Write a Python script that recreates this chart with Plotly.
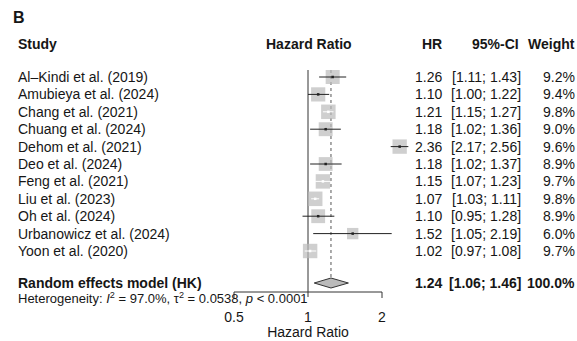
import numpy as np
import plotly.graph_objects as go

# ---------------- data ----------------
studies = ["Al–Kindi et al. (2019)", "Amubieya et al. (2024)", "Chang et al. (2021)",
           "Chuang et al. (2024)", "Dehom et al. (2021)", "Deo et al. (2024)",
           "Feng et al. (2021)", "Liu et al. (2023)", "Oh et al. (2024)",
           "Urbanowicz et al. (2024)", "Yoon et al. (2020)"]
hr = [1.26, 1.10, 1.21, 1.18, 2.36, 1.18, 1.15, 1.07, 1.10, 1.52, 1.02]
lower = [1.11, 1.00, 1.15, 1.02, 2.17, 1.02, 1.07, 1.03, 0.95, 1.05, 0.97]
upper = [1.43, 1.22, 1.27, 1.36, 2.56, 1.37, 1.23, 1.11, 1.28, 2.19, 1.08]
weights = [9.2, 9.4, 9.8, 9.0, 9.6, 8.9, 9.7, 9.8, 8.9, 6.0, 9.7]
pooled_label = "Random effects model (HK)"
pooled_hr = 1.24
pooled_lower = 1.06
pooled_upper = 1.46
pooled_weight = 100.0
het_text = "Heterogeneity: <i>I</i><sup>2</sup> = 97.0%, τ<sup>2</sup> = 0.0538, <i>p</i> &lt; 0.0001"
axis_ticks = [0.5, 1, 2]
axis_title = "Hazard Ratio"
headers = ["Study", "Hazard Ratio", "HR", "95%-CI", "Weight"]
panel_label = "B"

# ---------------- layout constants ----------------
W, H = 577, 341
FONT = "Liberation Sans, Arial, Helvetica, sans-serif"
TXT = "#161616"
PX_PER_DOUBLING = 74.0
PX_NULL = 308.0
x_lo = (0 - PX_NULL) * np.log10(2) / PX_PER_DOUBLING
x_hi = (W - PX_NULL) * np.log10(2) / PX_PER_DOUBLING
ROW0, ROWH = 77.0, 17.4
y_top = -ROW0 / ROWH
y_bot = (H - ROW0) / ROWH


def r(py):
    return (py - ROW0) / ROWH


def px(p):
    return p / W


rows = list(range(len(studies)))

fig = go.Figure()

# reference lines
fig.add_trace(go.Scatter(x=[1, 1], y=[r(70), r(297)], mode="lines",
                         line=dict(color="#333333", width=1), hoverinfo="skip"))
fig.add_trace(go.Scatter(x=[pooled_hr, pooled_hr], y=[r(70), r(278)], mode="lines",
                         line=dict(color="#555555", width=1, dash="dot"), hoverinfo="skip"))

# boxes
sizes = [14.5 * np.sqrt(w / 9.8) for w in weights]
fig.add_trace(go.Scatter(x=hr, y=rows, mode="markers",
                         marker=dict(symbol="square", size=sizes, color="#bababa",
                                     line=dict(width=0)), hoverinfo="skip"))

# CI lines (white when fully inside the box)
dark_x, dark_y, white_x, white_y = [], [], [], []
dark_px, dark_py, white_px, white_py = [], [], [], []
for i in rows:
    width_px = (np.log2(upper[i]) - np.log2(lower[i])) * PX_PER_DOUBLING
    inside = width_px <= sizes[i] + 1.0
    if inside:
        white_x += [lower[i], upper[i], None]
        white_y += [i, i, None]
        white_px.append(hr[i]); white_py.append(i)
    else:
        dark_x += [lower[i], upper[i], None]
        dark_y += [i, i, None]
        dark_px.append(hr[i]); dark_py.append(i)
fig.add_trace(go.Scatter(x=dark_x, y=dark_y, mode="lines",
                         line=dict(color="#222222", width=1), hoverinfo="skip"))
fig.add_trace(go.Scatter(x=white_x, y=white_y, mode="lines",
                         line=dict(color="#ffffff", width=1), hoverinfo="skip"))
fig.add_trace(go.Scatter(x=dark_px, y=dark_py, mode="markers",
                         marker=dict(symbol="square", size=2.5, color="#222222"), hoverinfo="skip"))
fig.add_trace(go.Scatter(x=white_px, y=white_py, mode="markers",
                         marker=dict(symbol="square", size=2.5, color="#ffffff"), hoverinfo="skip"))

# diamond
yc = r(283)
hh = 5 / ROWH
fig.add_trace(go.Scatter(x=[pooled_lower, pooled_hr, pooled_upper, pooled_hr, pooled_lower],
                         y=[yc, yc - hh, yc, yc + hh, yc], mode="lines", fill="toself",
                         fillcolor="#bababa", line=dict(color="#333333", width=1),
                         hoverinfo="skip"))

# axis
ya = r(292)
fig.add_trace(go.Scatter(x=[axis_ticks[0], axis_ticks[-1]], y=[ya, ya], mode="lines",
                         line=dict(color="#333333", width=1), hoverinfo="skip"))
tx, ty = [], []
for t in axis_ticks:
    if t != 1:
        tx += [t, t, None]
        ty += [ya, r(298), None]
fig.add_trace(go.Scatter(x=tx, y=ty, mode="lines",
                         line=dict(color="#333333", width=1), hoverinfo="skip"))
fig.add_trace(go.Scatter(x=axis_ticks, y=[r(318)] * len(axis_ticks), mode="text",
                         text=[f"{t:g}" for t in axis_ticks], textposition="middle center",
                         textfont=dict(family=FONT, size=14, color=TXT), hoverinfo="skip"))
fig.add_trace(go.Scatter(x=[1], y=[r(333)], mode="text", text=[axis_title],
                         textposition="middle center",
                         textfont=dict(family=FONT, size=14, color=TXT), hoverinfo="skip"))

# ---------------- text columns ----------------
ann = []


def add(text, xp, y, anchor, size=14, bold=False):
    if bold:
        text = f"<b>{text}</b>"
    ann.append(dict(text=text, x=px(xp), xref="paper", y=y, yref="y",
                    xanchor=anchor, yanchor="middle", showarrow=False,
                    borderpad=0,
                    font=dict(family=FONT, size=size, color=TXT)))


X_STUDY, X_HR, X_CI, X_W = 17, 443, 522, 576
add(panel_label, 12, r(17), "left", size=16, bold=True)
yh = r(44)
add(headers[0], X_STUDY, yh, "left", bold=True)
add(headers[1], 309, yh, "center", bold=True)
add(headers[2], X_HR, yh, "right", bold=True)
add(headers[3], 520, yh, "right", bold=True)
add(headers[4], X_W, yh, "right", bold=True)

for i in rows:
    add(studies[i], X_STUDY, i, "left")
    add(f"{hr[i]:.2f}", X_HR, i, "right")
    add(f"[{lower[i]:.2f}; {upper[i]:.2f}]", X_CI, i, "right")
    add(f"{weights[i]:.1f}%", X_W, i, "right")

ys = r(283)
add(pooled_label, X_STUDY, ys, "left", bold=True)
add(f"{pooled_hr:.2f}", X_HR, ys, "right", bold=True)
add(f"[{pooled_lower:.2f}; {pooled_upper:.2f}]", X_CI, ys, "right", bold=True)
add(f"{pooled_weight:.1f}%", X_W, ys, "right", bold=True)
add(het_text, X_STUDY, r(297.5), "left", size=13)

fig.update_layout(
    width=W, height=H, margin=dict(l=0, r=0, t=0, b=0),
    paper_bgcolor="white", plot_bgcolor="white", showlegend=False,
    xaxis=dict(type="log", range=[x_lo, x_hi], visible=False, fixedrange=True),
    yaxis=dict(range=[y_bot, y_top], visible=False, fixedrange=True),
    annotations=ann,
)
fig.write_html("out.html")
